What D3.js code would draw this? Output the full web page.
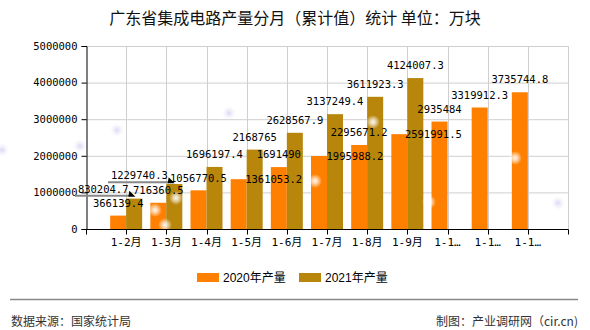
<!DOCTYPE html>
<html><head><meta charset="utf-8">
<script src="https://cdn.jsdelivr.net/npm/d3@7/dist/d3.min.js"></script>
<style>
html,body{margin:0;padding:0;background:#fff;}
svg{display:block;}
</style></head>
<body><svg id="c" width="590" height="330"></svg>
<script>
const title = "广东省集成电路产量分月（累计值）统计  单位：万块";
const categories = ["1-2月","1-3月","1-4月","1-5月","1-6月","1-7月","1-8月","1-9月","1-10月","1-11月","1-12月"];
const series2020 = [366139.4,716360.5,1056770.5,1361053.2,1691490,1995988.2,2295671.2,2591991.5,2935484,3319912.3,3735744.8];
const series2021 = [830204.7,1229740.3,1696197.4,2168765,2628567.9,3137249.4,3611923.3,4124007.3,null,null,null];
const seriesNames = ["2020年产量","2021年产量"];
const yTicks = [0,1000000,2000000,3000000,4000000,5000000];
const colors = ["#FF8000","#B8860B"];
// label adjustments (layout only): [dx, dy, leader]
const adj2020 = [[0,0,0],[0,0,0],[0,0,0],[35,13,0],[0,0,0],[36,13,0],[0,0,0],[34,13,0],[0,0,0],[0,0,0],[0,0,0]];
const adj2021 = [[-31,3,1],[-35,4,1],[0,0,0],[0,0,0],[0,0,0],[0,0,0],[0,0,0],[0,0,0],[0,0,0],[0,0,0],[0,0,0]];

const svg = d3.select("#c");
const L = 86, R = 568, T = 46, B = 229;
const x = d3.scalePoint().domain(categories).range([L, R]).padding(1);
const y = d3.scaleLinear().domain([0, 5000000]).range([B, T]);
const step = x.step();
const bw = 16;

// defs for decorative glows
const defs = svg.append("defs");
const g1 = defs.append("radialGradient").attr("id","glow");
g1.append("stop").attr("offset","0%").attr("stop-color","#fff").attr("stop-opacity",0.95);
g1.append("stop").attr("offset","45%").attr("stop-color","#fff").attr("stop-opacity",0.6);
g1.append("stop").attr("offset","100%").attr("stop-color","#fff").attr("stop-opacity",0);
const g2 = defs.append("radialGradient").attr("id","glowb");
g2.append("stop").attr("offset","0%").attr("stop-color","#c8c8ee").attr("stop-opacity",0.7);
g2.append("stop").attr("offset","100%").attr("stop-color","#e8e8f8").attr("stop-opacity",0);

// title
svg.append("text").attr("x", 295).attr("y", 17).attr("text-anchor","middle").attr("dominant-baseline","central")
  .attr("font-family","'Noto Sans CJK SC', sans-serif").attr("font-size",16).attr("fill","#111").text(title);

// grid
const tickPos = categories.map(c => x(c)).concat([R]);
svg.append("g").selectAll("line").data(yTicks.slice(1)).join("line")
  .attr("x1", L).attr("x2", R).attr("y1", d => y(d)+0.5).attr("y2", d => y(d)+0.5)
  .attr("stroke","#cfcfcf").attr("stroke-width",1);
svg.append("g").selectAll("line").data(tickPos).join("line")
  .attr("x1", d => Math.round(d)+0.5).attr("x2", d => Math.round(d)+0.5).attr("y1", T).attr("y2", B)
  .attr("stroke","#cfcfcf").attr("stroke-width",1);

// faint bluish decor
const decorB = [[80,146],[117,130],[229,113],[558,203],[2,150]];
svg.append("g").selectAll("circle").data(decorB).join("circle")
  .attr("cx", d=>d[0]).attr("cy", d=>d[1]).attr("r",7).attr("fill","url(#glowb)");

// bars
const gb = svg.append("g");
gb.selectAll("rect.a").data(series2020).join("rect").attr("class","a")
  .attr("x", (d,i) => x(categories[i]) - bw).attr("width", bw)
  .attr("y", d => y(d)).attr("height", d => B - y(d)).attr("fill", colors[0]);
gb.selectAll("rect.b").data(series2021.map((v,i)=>({v,i})).filter(d=>d.v!=null)).join("rect").attr("class","b")
  .attr("x", d => x(categories[d.i])).attr("width", bw)
  .attr("y", d => y(d.v)).attr("height", d => B - y(d.v)).attr("fill", colors[1]);

// white glows decor
const decorW = [[176,198],[155,210],[165,225],[315,181],[373,122],[429,202],[515,158]];
svg.append("g").selectAll("circle").data(decorW).join("circle")
  .attr("cx", d=>d[0]).attr("cy", d=>d[1]).attr("r",7).attr("fill","url(#glow)");

// axes
const yAxis = d3.axisLeft(y).tickValues(yTicks).tickSize(5).tickFormat(d3.format("d"));
const ya = svg.append("g").attr("transform",`translate(${L+0.5},0)`).call(yAxis);
ya.select(".domain").attr("stroke","#000");
ya.selectAll(".tick line").attr("stroke","#000");
ya.selectAll(".tick text").attr("font-family","'DejaVu Sans Mono', monospace").attr("font-size",10.5).attr("fill","#000").attr("x",-9);

const xa = svg.append("g").attr("transform",`translate(0,${B+0.5})`);
xa.append("line").attr("x1",L).attr("x2",R+0.5).attr("stroke","#000");
xa.selectAll("line.t").data([L].concat(tickPos)).join("line").attr("class","t")
  .attr("x1", d=>Math.round(d)+0.5).attr("x2", d=>Math.round(d)+0.5).attr("y1",0).attr("y2",5).attr("stroke","#000");
xa.selectAll("text").data(categories).join("text")
  .attr("x", d => x(d)).attr("y", 13).attr("text-anchor","middle").attr("dominant-baseline","central")
  .attr("font-family","'DejaVu Sans Mono','Noto Sans CJK SC', monospace").attr("font-size",11).attr("fill","#000")
  .text(d => d.length > 4 ? d.slice(0,3) + "…" : d);

// labels
const lab = svg.append("g").attr("font-family","'DejaVu Sans Mono', monospace").attr("font-size",10.5).attr("fill","#000");
function addLabels(vals, adj, off) {
  vals.forEach((v,i) => {
    if (v == null) return;
    const cx = x(categories[i]) + off;
    const a = adj[i];
    const tx = cx + a[0], ty = y(v) - 12.8 + a[1];
    const t = lab.append("text").attr("x", tx).attr("y", ty).attr("text-anchor","middle").attr("dominant-baseline","central").text(String(v));
    if (a[2]) {
      const w = String(v).length * 6.3;
      const x0 = tx - w/2 - 3, x1 = tx + w/2 + 1;
      const ly = ty + 7;
      lab.append("line").attr("x1",x0).attr("x2",x1).attr("y1",ly).attr("y2",ly).attr("stroke","#888").attr("stroke-width",2);
      lab.append("path").attr("d",`M${x1},${ly-5} L${x1+6},${ly+1} L${x1-1},${ly+1} Z`).attr("fill","#000");
    }
  });
}
addLabels(series2020, adj2020, -bw/2);
addLabels(series2021, adj2021, bw/2);

// legend
const lg = svg.append("g");
const legX = [197, 299];
seriesNames.forEach((n,i) => {
  lg.append("rect").attr("x", legX[i]).attr("y", 273).attr("width",22).attr("height",9).attr("fill",colors[i]);
  lg.append("text").attr("x", legX[i]+26).attr("y", 277.5).attr("dominant-baseline","central")
    .attr("font-family","'Liberation Sans','Noto Sans CJK SC', sans-serif").attr("font-size",12).attr("fill","#000").text(n);
});

// footer
svg.append("line").attr("x1",10).attr("x2",578).attr("y1",299.5).attr("y2",299.5).attr("stroke","#888").attr("stroke-width",1.5);
svg.append("text").attr("x",11).attr("y",320).attr("dominant-baseline","central")
  .attr("font-family","'Noto Sans CJK SC', sans-serif").attr("font-size",12).attr("fill","#333").text("数据来源：国家统计局");
svg.append("text").attr("x",578).attr("y",320).attr("text-anchor","end").attr("dominant-baseline","central")
  .attr("font-family","'Noto Sans CJK SC', sans-serif").attr("font-size",12).attr("fill","#333").text("制图：产业调研网（cir.cn)");
</script></body></html>
